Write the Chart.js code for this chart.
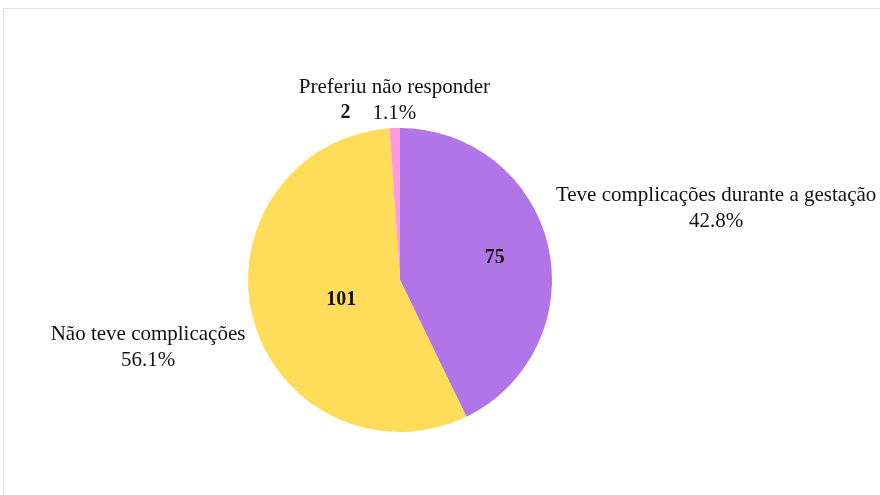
<!DOCTYPE html>
<html>
<head>
<meta charset="utf-8">
<script src="https://cdn.jsdelivr.net/npm/chart.js@4/dist/chart.umd.min.js"></script>
<style>
  body { margin: 0; background: #fff; }
  #wrap { position: relative; width: 880px; height: 495px; }
  #frame { position: absolute; left: 3px; top: 8px; right: 0; bottom: 0; border-top: 1px solid #e3e3e3; border-left: 1px solid #e3e3e3; }
  #myChart { position: absolute; left: 0; top: 0; }
</style>
</head>
<body>
<div id="wrap">
  <div id="frame"></div>
  <canvas id="myChart" width="880" height="495"></canvas>
</div>
<script>
const categorias = ['Teve complicações durante a gestação', 'Não teve complicações', 'Preferiu não responder']
const valores = [75, 101, 2]
const porcentagens = [42.8, 56.1, 1.1]
const cores = ['#b175e7', '#ffdd5a', '#ff9bdc']

const myChart = document.querySelector('#myChart')
const fonte = '"Liberation Serif", "Times New Roman", serif'

// valor dentro da fatia (fração do raio), 0 = vai para fora junto do rótulo
const raioInterno = [0.64, 0.40, 0]
const ajusteY = [-9, 0, 8]

const rotulos = {
    id: 'rotulos',
    afterDatasetsDraw(chart) {
        const ctx = chart.ctx
        const arcs = chart.getDatasetMeta(0).data
        ctx.save()
        ctx.fillStyle = '#111'
        ctx.textBaseline = 'middle'
        arcs.forEach((arc, i) => {
            const { x, y, startAngle, endAngle, outerRadius } = arc.getProps(['x', 'y', 'startAngle', 'endAngle', 'outerRadius'], true)
            const meio = (startAngle + endAngle) / 2
            const cos = Math.cos(meio), sin = Math.sin(meio)
            const pct = porcentagens[i].toFixed(1) + '%'

            // texto de fora
            ctx.font = '21px ' + fonte
            const linhas = [categorias[i], pct]
            const larg = Math.max(...linhas.map(l => ctx.measureText(l).width))
            const altLinha = 26
            const alt = altLinha * linhas.length
            const ax = x + (outerRadius + 8) * cos
            const ay = y + (outerRadius + 10) * sin
            let cx = ax
            if (cos > 0.3) cx = ax + larg / 2
            else if (cos < -0.3) cx = ax - larg / 2
            const topo = (sin < 0 ? ay - alt : ay) + ajusteY[i]
            ctx.textAlign = 'center'
            linhas.forEach((l, k) => ctx.fillText(l, cx, topo + altLinha * k + altLinha / 2))

            // valor
            if (raioInterno[i] > 0) {
                ctx.font = 'bold 20px ' + fonte
                const r = outerRadius * raioInterno[i]
                ctx.fillText(valores[i], x + r * cos, y + r * sin + (cos < 0 ? 4 : 0))
            } else {
                const wp = ctx.measureText(pct).width
                ctx.font = 'bold 20px ' + fonte
                ctx.textAlign = 'right'
                ctx.fillText(valores[i], cx - wp / 2 - 22, topo + altLinha * 1.5)
            }
        })
        ctx.restore()
    }
}

new Chart(myChart, {
    type: 'pie',
    data: {
        labels: categorias,
        datasets: [{ data: porcentagens, backgroundColor: cores, borderWidth: 0 }]
    },
    options: {
        responsive: false,
        animation: false,
        layout: { padding: { top: 128, bottom: 63, left: 248, right: 328 } },
        plugins: { legend: { display: false }, tooltip: { enabled: false } }
    },
    plugins: [rotulos]
})
</script>
</body>
</html>
